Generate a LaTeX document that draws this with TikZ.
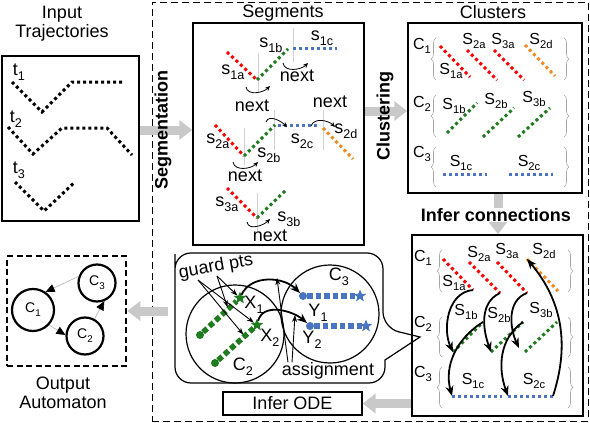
\documentclass[tikz,border=0pt]{standalone}
\usepackage{fontspec}
\setmainfont{Liberation Sans}
\usetikzlibrary{arrows.meta}
\usetikzlibrary{decorations.pathreplacing}
\usetikzlibrary{shapes.geometric}
\usetikzlibrary{positioning}

\definecolor{segred}{HTML}{FF0000}
\definecolor{seggreen}{HTML}{1E7B1E}
\definecolor{segblue}{HTML}{4A74C0}
\definecolor{segorange}{HTML}{F08A24}
\definecolor{flowgray}{HTML}{C9C9C9}

\newcommand{\bigfont}{\fontsize{18}{19}\selectfont}
\newcommand{\midfont}{\fontsize{16}{17}\selectfont}
\newcommand{\smallfont}{\fontsize{14}{15}\selectfont}
% index set low and small
\newcommand{\ix}[1]{\raisebox{-0.3em}{\scalebox{0.7}{#1}}}

\tikzset{
  % square dots of a trajectory piece
  dots/.style = {
    line width = 3pt,
    dash pattern = on 3pt off 3pt
  },
  bigdots/.style = {
    line width = 5.5pt,
    dash pattern = on 5.5pt off 3pt
  },
  % thin grey line at a cut point
  cutline/.style = {
    draw = black!18,
    line width = 0.6pt
  },
  % curly bracket round a cluster
  clubrace/.style = {
    draw = black!35,
    line width = 0.6pt,
    decorate,
    decoration = {brace, amplitude = 5pt}
  },
  % wide grey arrow between two steps
  flow/.style = {
    draw = flowgray,
    line width = 9pt,
    -{Triangle[length = 13pt, width = 19pt]}
  },
  % small curved arrow for next
  nextarr/.style = {
    draw = black,
    line width = 0.8pt,
    -{Stealth[length = 5pt, width = 4.5pt]}
  },
  % thick arrow from a segment to the one that follows it
  conn/.style = {
    draw = black,
    line width = 1.8pt,
    -{Stealth[length = 10pt, width = 8pt]}
  },
  % arrow from a note to what it names
  notearr/.style = {
    draw = black,
    line width = 0.9pt,
    -{Stealth[length = 7pt, width = 5pt]}
  },
  % transition of the automaton
  trans/.style = {
    draw = black!30,
    line width = 0.6pt,
    -{Triangle[length = 9pt, width = 8pt, color = black]}
  }
}
\tikzset{
  panel/.style = {
    draw = black,
    line width = 1.5pt,
    inner sep = 0
  },
  title/.style = {
    font = \bigfont,
    align = center,
    inner sep = 0
  },
  stage/.style = {
    font = \bigfont\bfseries,
    inner sep = 0.5pt
  },
  seglabel/.style = {
    font = \bigfont,
    inner sep = 0
  },
  clulabel/.style = {
    font = \midfont,
    inner sep = 0
  },
  % state of the output automaton
  autostate/.style = {
    draw = black,
    circle,
    line width = 2.2pt,
    minimum size = 37pt,
    inner sep = 0,
    font = \smallfont
  },
  startpt/.style = {
    circle,
    inner sep = 0,
    minimum size = 8pt
  },
  guardpt/.style = {
    star,
    star points = 5,
    star point ratio = 2.3,
    inner sep = 0,
    minimum size = 13pt
  }
}

\begin{document}
\begin{tikzpicture}[x=1pt, y=-1pt]
  \useasboundingbox (0,0) rectangle (590,423);

  % frame round the learning steps
  \node[draw, line width=1pt, dash pattern=on 7pt off 4pt, minimum width=436pt, minimum height=419pt] (learn) at (370,211.5) {};

  \node[panel, minimum width=137pt, minimum height=165pt] (inbox) at (70.5,138.5) {};
  \node[panel, minimum width=171pt, minimum height=222pt] (segbox) at (278.5,134) {};
  \node[panel, minimum width=174pt, minimum height=170pt] (clubox) at (495,108) {};
  \node[panel, minimum width=171pt, minimum height=181pt] (infbox) at (497.5,325.5) {};
  \node[panel, line width=1.2pt, minimum width=139pt, minimum height=23pt, font=\bigfont] (odebox) at (292.5,403.5) {Infer ODE};
  \node[panel, line width=2.5pt, dash pattern=on 6pt off 3.5pt, minimum width=119pt, minimum height=110pt] (outbox) at (66.5,311) {};

  % grey arrows between the steps
  \draw[flow] ([yshift=8.5pt]inbox.east) -- ([yshift=8.5pt]inbox.east -| segbox.west);
  \draw[flow] ([yshift=23pt]segbox.east) -- ([yshift=23pt]segbox.east -| clubox.west);
  \draw[flow] ([xshift=3pt]clubox.south) -- ([xshift=3pt]clubox.south |- infbox.north);
  \draw[flow] (infbox.west |- odebox.east) -- (odebox.east);
  \coordinate (bubw) at (168,311);
  \draw[flow] (bubw) -- (outbox.east);

  \node[stage, rotate=90] (segment) at (163,130) {Segmentation};
  \node[stage, rotate=90] (cluster) at (385,116) {Clustering};
  \node[stage, fill=white] (infer) at (496,215) {Infer connections};

  \node[title] (intitle) at (62,24) {Input\\Trajectories};
  \node[title] (segtitle) at (283,13) {Segments};
  \node[title] (clutitle) at (493,12) {Clusters};
  \node[title] (outtitle) at (63,393) {Output\\Automaton};

  % input trajectories
  \draw[dots] (12,82) -- (42,112) -- (72,82) -- (122,82);
  \draw[dots] (8,127) -- (33,154) -- (62,128) -- (107,128) -- (132,155);
  \draw[dots] (15,182) -- (44,211) -- (75,182);
  \node[seglabel] (t1) at (19,72) {t\ix{1}};
  \node[seglabel] (t2) at (16,119) {t\ix{2}};
  \node[seglabel] (t3) at (19,170) {t\ix{3}};

  % segments of t1
  \draw[cutline] (258,53) -- (258,92);
  \draw[cutline] (293,28) -- (293,62);
  \draw[dots, segred] (227,52) -- (257,80) coordinate (j1a);
  \draw[dots, seggreen] (j1a) -- (288,49) coordinate (j1b);
  \draw[dots, segblue] (293,48) -- (337,48);
  \draw[nextarr] ([shift={(-11,7)}]j1a) to[out=-80, in=-135] ([shift={(13,6)}]j1a);
  \draw[nextarr] ([shift={(-5,14)}]j1b) to[out=-80, in=-135] ([shift={(20,14)}]j1b);
  \node[seglabel] (s1a) at (233,72) {s\ix{1a}};
  \node[seglabel] (s1b) at (271,45) {s\ix{1b}};
  \node[seglabel] (s1c) at (322,38) {s\ix{1c}};
  \node[seglabel] (next1) at (297,76) {next};
  \node[seglabel] (next2) at (252,106) {next};

  % segments of t2
  \draw[cutline] (244,128) -- (244,165);
  \draw[cutline] (274,110) -- (274,150);
  \draw[cutline] (323,110) -- (323,150);
  \draw[dots, segred] (215,125) -- (244,156) coordinate (j2a);
  \draw[dots, seggreen] (j2a) -- (275,125) coordinate (j2b);
  \draw[dots, segblue] (278,125) -- (320,125) coordinate (j2c);
  \draw[dots, segorange] (323,128) -- (353,159);
  \draw[nextarr] ([shift={(-11,6)}]j2a) to[out=-80, in=-135] ([shift={(14,6)}]j2a);
  \draw[nextarr] ([shift={(-9,-3)}]j2b) to[out=70, in=135] ([shift={(12,2)}]j2b);
  \draw[nextarr] ([shift={(-9,1)}]j2c) to[out=70, in=135] ([shift={(15,2)}]j2c);
  \node[seglabel] (s2a) at (218,141) {s\ix{2a}};
  \node[seglabel] (s2b) at (269,155) {s\ix{2b}};
  \node[seglabel] (s2c) at (302,141) {s\ix{2c}};
  \node[seglabel] (s2d) at (346,131) {s\ix{2d}};
  \node[seglabel] (next3) at (330,102) {next};
  \node[seglabel] (next4) at (245,176) {next};

  % segments of t3
  \draw[cutline] (257,193) -- (257,232);
  \draw[dots, segred] (227,188) -- (257,218) coordinate (j3a);
  \draw[dots, seggreen] (j3a) -- (287,189);
  \draw[nextarr] ([shift={(-10,4)}]j3a) to[out=-80, in=-135] ([shift={(13,1)}]j3a);
  \node[seglabel] (s3a) at (227,204) {s\ix{3a}};
  \node[seglabel] (s3b) at (289,219) {s\ix{3b}};
  \node[seglabel] (next5) at (270,236) {next};

  % clusters
  \draw[clubrace] (436,80) -- (436,38);
  \draw[clubrace] (564,38) -- (564,80);
  \draw[clubrace] (436,137) -- (436,95);
  \draw[clubrace] (564,95) -- (564,137);
  \draw[clubrace] (436,187) -- (436,147);
  \draw[clubrace] (564,147) -- (564,187);
  \node[clulabel] (cc1) at (422,46) {C\ix{1}};
  \node[clulabel] (cc2) at (422,104) {C\ix{2}};
  \node[clulabel] (cc3) at (422,154) {C\ix{3}};
  \draw[dots, segred] (440,46) -- (470,77);
  \draw[dots, segred] (467,50) -- (497,80);
  \draw[dots, segred] (494,50) -- (524,80);
  \draw[dots, segorange] (525,45) -- (555,76);
  \draw[dots, seggreen] (447,133) -- (477,103);
  \draw[dots, seggreen] (483,137) -- (514,108);
  \draw[dots, seggreen] (518,137) -- (550,108);
  \draw[dots, segblue] (443,174) -- (487,174);
  \draw[dots, segblue] (509,174) -- (553,174);
  \node[clulabel] (cs1a) at (451,71) {S\ix{1a}};
  \node[clulabel] (cs2a) at (474,41) {S\ix{2a}};
  \node[clulabel] (cs3a) at (503,41) {S\ix{3a}};
  \node[clulabel] (cs2d) at (541,41) {S\ix{2d}};
  \node[clulabel] (cs1b) at (454,106) {S\ix{1b}};
  \node[clulabel] (cs2b) at (496,101) {S\ix{2b}};
  \node[clulabel] (cs3b) at (534,99) {S\ix{3b}};
  \node[clulabel] (cs1c) at (461,163) {S\ix{1c}};
  \node[clulabel] (cs2c) at (529,163) {S\ix{2c}};

  % clusters with their connections
  \draw[clubrace] (442,292) -- (442,250);
  \draw[clubrace] (568,250) -- (568,292);
  \draw[clubrace] (442,357) -- (442,317);
  \draw[clubrace] (568,317) -- (568,357);
  \draw[clubrace] (442,408) -- (442,367);
  \draw[clubrace] (568,367) -- (568,408);
  \node[clulabel] (ic1) at (423,258) {C\ix{1}};
  \node[clulabel] (ic2) at (423,324) {C\ix{2}};
  \node[clulabel] (ic3) at (423,374) {C\ix{3}};
  \draw[dots, segred] (443,259) -- (473,290) coordinate (a1e);
  \draw[dots, segred] (469,262) -- (500,293) coordinate (a2e);
  \draw[dots, segred] (497,262) -- (527,293) coordinate (a3e);
  \draw[dots, segorange] (527,259) coordinate (d2s) -- (558,291);
  \draw[dots, seggreen] (453,352) coordinate (b1s) -- (483,322) coordinate (b1e);
  \draw[dots, seggreen] (491,352) coordinate (b2s) -- (523,322) coordinate (b2e);
  \draw[dots, seggreen] (525,352) coordinate (b3s) -- (557,322);
  \draw[dots, segblue] (452,396) coordinate (c1s) -- (502,396);
  \draw[dots, segblue] (508,396) coordinate (c2s) -- (553,396) coordinate (c2e);
  \draw[conn] (a1e) to[out=185, in=115] (b1s);
  \draw[conn] (a2e) to[out=205, in=110] (b2s);
  \draw[conn] (a3e) to[out=200, in=115] ([shift={(-6,-4)}]b3s);
  \draw[conn] (b1e) to[out=212, in=105] (c1s);
  \draw[conn] (b2e) to[out=215, in=110] (c2s);
  \draw[conn] (c2e) to[out=72, in=-50] (d2s);
  \node[clulabel] (is1a) at (454,283) {S\ix{1a}};
  \node[clulabel] (is2a) at (479,254) {S\ix{2a}};
  \node[clulabel] (is3a) at (507,251) {S\ix{3a}};
  \node[clulabel] (is2d) at (544,251) {S\ix{2d}};
  \node[clulabel] (is1b) at (466,312) {S\ix{1b}};
  \node[clulabel] (is2b) at (499,315) {S\ix{2b}};
  \node[clulabel] (is3b) at (541,310) {S\ix{3b}};
  \node[clulabel] (is1c) at (473,381) {S\ix{1c}};
  \node[clulabel] (is2c) at (534,381) {S\ix{2c}};

  % call-out: guards and assignments
  \draw[line width=1.2pt] (175,270) [rounded corners=16pt] -- (175,253) -- (383,253) -- (383,328) [sharp corners] -- (420,337) -- (385,360) [rounded corners=16pt] -- (385,383) -- (175,383) -- cycle;
  \node[draw, circle, line width=1.2pt, minimum size=98pt, inner sep=0] (cl2) at (235,334) {};
  \node[draw, circle, line width=1.2pt, minimum size=98pt, inner sep=0] (cl3) at (330,314) {};
  \node[seglabel] (cl2lab) at (243,367) {C\ix{2}};
  \node[seglabel] (cl3lab) at (339,277) {C\ix{3}};

  \node[startpt, fill=seggreen] (x1s) at (200,335) {};
  \node[guardpt, fill=seggreen] (x1g) at (240,298) {};
  \node[startpt, fill=seggreen] (x2s) at (215,363) {};
  \node[guardpt, fill=seggreen] (x2g) at (257,325) {};
  \draw[bigdots, seggreen] (x1s) -- (x1g);
  \draw[bigdots, seggreen] (x2s) -- (x2g);
  \path (x1s) -- (x1g) coordinate[pos=0.75] (x1d);
  \path (x2s) -- (x2g) coordinate[pos=0.75] (x2d);

  \node[startpt, fill=segblue] (y1s) at (303,296) {};
  \node[guardpt, fill=segblue] (y1e) at (360,296) {};
  \node[startpt, fill=segblue] (y2s) at (310,326) {};
  \node[guardpt, fill=segblue] (y2e) at (366,326) {};
  \draw[bigdots, segblue, line width=6pt] (y1s) -- (y1e);
  \draw[bigdots, segblue, line width=6pt] (y2s) -- (y2e);

  \node[seglabel] (x1lab) at (254,305) {X\ix{1}};
  \node[seglabel] (x2lab) at (270,338) {X\ix{2}};
  \node[seglabel] (y1lab) at (318,313) {Y\ix{1}};
  \node[seglabel] (y2lab) at (312,340) {Y\ix{2}};

  \draw[conn] (x1g) to[out=65, in=135] (y1s.north west);
  \draw[conn] (x2g) to[out=75, in=140] (y2s.north west);

  \node[seglabel, rotate=10] (guard) at (216,267) {guard pts};
  \coordinate (gpa) at (217,276);
  \coordinate (gpb) at (198,280);
  \draw[notearr] (gpa) -- (x1g);
  \draw[notearr, shorten >=2pt] (gpa) -- (x1d);
  \draw[notearr] (gpb) -- (x2g);
  \draw[notearr, shorten >=2pt] (gpb) -- (x2d);

  \node[seglabel] (asg) at (328,371) {assignment};
  \coordinate (asgup) at (277,278);
  \coordinate (asgmid) at (295,315);
  \draw[notearr] ([xshift=-40pt]asg.north) -- (asgup);
  \draw[notearr] ([xshift=-36pt]asg.north) -- (asgmid);

  % output automaton
  \node[autostate, minimum size=42pt] (a1) at (33,310) {C\ix{1}};
  \node[autostate] (a2) at (85,336) {C\ix{2}};
  \node[autostate] (a3) at (97,283) {C\ix{3}};
  \draw[trans] (a3.160) -- (a1.55);
  \draw[trans] (a1.-43) -- (a2.177);
  \draw[trans] (a2.61) -- (a3.-68);
\end{tikzpicture}
\end{document}
